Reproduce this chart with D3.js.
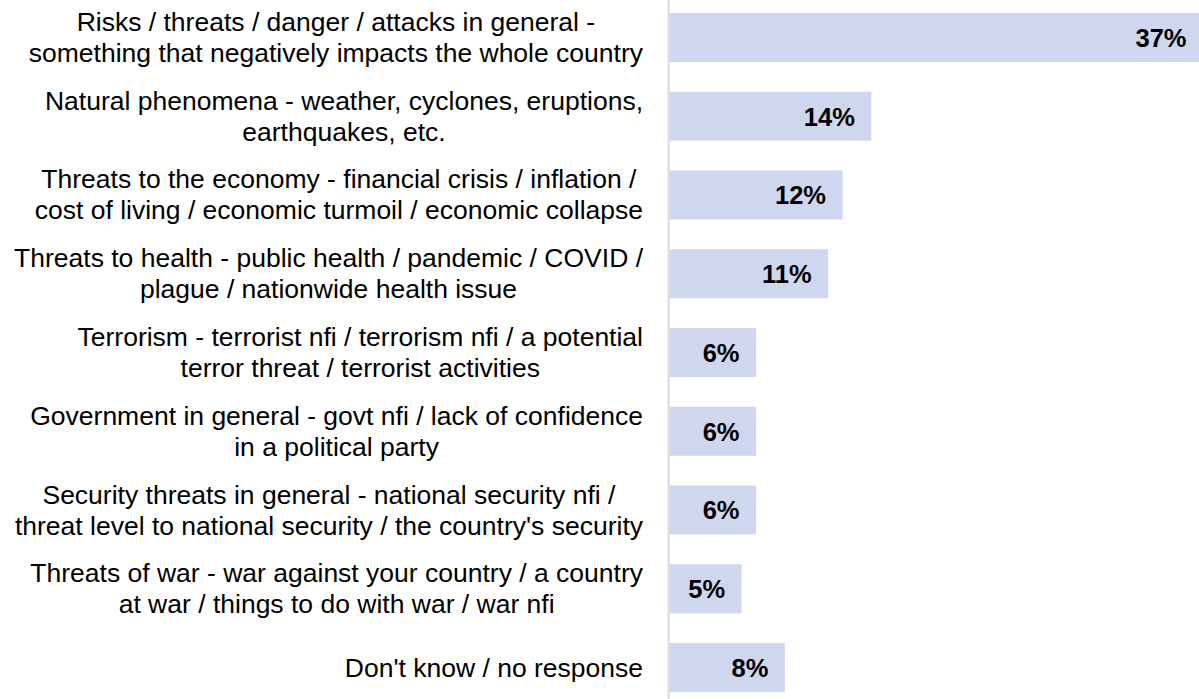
<!DOCTYPE html>
<html>
<head>
<meta charset="utf-8">
<script src="https://cdn.jsdelivr.net/npm/d3@7/dist/d3.min.js"></script>
<style>
  html, body { margin: 0; padding: 0; background: #ffffff; }
  svg { display: block; }
  text { font-family: "Liberation Sans", Arial, sans-serif; }
</style>
</head>
<body>
<svg id="chart" width="1199" height="699"></svg>
<script>
const categories = [
  "Risks / threats / danger / attacks in general - something that negatively impacts the whole country",
  "Natural phenomena - weather, cyclones, eruptions, earthquakes, etc.",
  "Threats to the economy - financial crisis / inflation / cost of living / economic turmoil / economic collapse",
  "Threats to health - public health / pandemic / COVID / plague / nationwide health issue",
  "Terrorism - terrorist nfi / terrorism nfi / a potential terror threat / terrorist activities",
  "Government in general - govt nfi / lack of confidence in a political party",
  "Security threats in general - national security nfi / threat level to national security / the country's security",
  "Threats of war - war against your country / a country at war / things to do with war / war nfi",
  "Don't know / no response"
];
const labelLines = [
  ["Risks / threats / danger / attacks in general -", "something that negatively impacts the whole country"],
  ["Natural phenomena - weather, cyclones, eruptions,", "earthquakes, etc."],
  ["Threats to the economy - financial crisis / inflation /", "cost of living / economic turmoil / economic collapse"],
  ["Threats to health - public health / pandemic / COVID /", "plague / nationwide health issue"],
  ["Terrorism - terrorist nfi / terrorism nfi / a potential", "terror threat / terrorist activities"],
  ["Government in general - govt nfi / lack of confidence", "in a political party"],
  ["Security threats in general - national security nfi /", "threat level to national security / the country's security"],
  ["Threats of war - war against your country / a country", "at war / things to do with war / war nfi"],
  ["Don't know / no response"]
];
const values = [37, 14, 12, 11, 6, 6, 6, 5, 8];

const svg = d3.select("#chart");
const W = 1199, H = 699;

const x = d3.scaleLinear().domain([0, 10]).range([669.5, 669.5 + 144.2]);
const y = d3.scaleBand().domain(categories).range([13, 692]).paddingInner(0.378).paddingOuter(0);

// bars
svg.append("g").selectAll("rect")
  .data(categories)
  .join("rect")
  .attr("x", x(0))
  .attr("y", d => y(d))
  .attr("width", (d, i) => x(values[i]) - x(0))
  .attr("height", y.bandwidth())
  .attr("fill", "#cfd7ef");

// axis line
svg.append("line")
  .attr("x1", 668.6).attr("x2", 668.6)
  .attr("y1", 0).attr("y2", H)
  .attr("stroke", "#d9d9d9")
  .attr("stroke-width", 2);

// value labels
svg.append("g").selectAll("text")
  .data(categories)
  .join("text")
  .attr("x", (d, i) => x(values[i]) - 16.5)
  .attr("y", d => y(d) + y.bandwidth() / 2 + 9.3)
  .attr("text-anchor", "end")
  .attr("font-size", "25.5px")
  .attr("font-weight", "bold")
  .attr("fill", "#000")
  .text((d, i) => values[i] + "%");

// category labels
const rightEdge = 643;
const lg = svg.append("g");
categories.forEach((c, i) => {
  const lines = labelLines[i];
  const cy = y(c) + y.bandwidth() / 2;
  const t = lg.append("text")
    .attr("font-size", "26.5px")
    .attr("fill", "#000")
    .attr("text-anchor", "middle");
  const base = lines.length === 2 ? cy - 6.5 : cy + 9.5;
  const spans = lines.map((ln, k) => t.append("tspan")
    .attr("y", base + k * 31)
    .text(ln));
  let maxW = 0;
  spans.forEach(s => { maxW = Math.max(maxW, s.node().getComputedTextLength()); });
  spans.forEach(s => s.attr("x", rightEdge - maxW / 2));
});
</script>
</body>
</html>
